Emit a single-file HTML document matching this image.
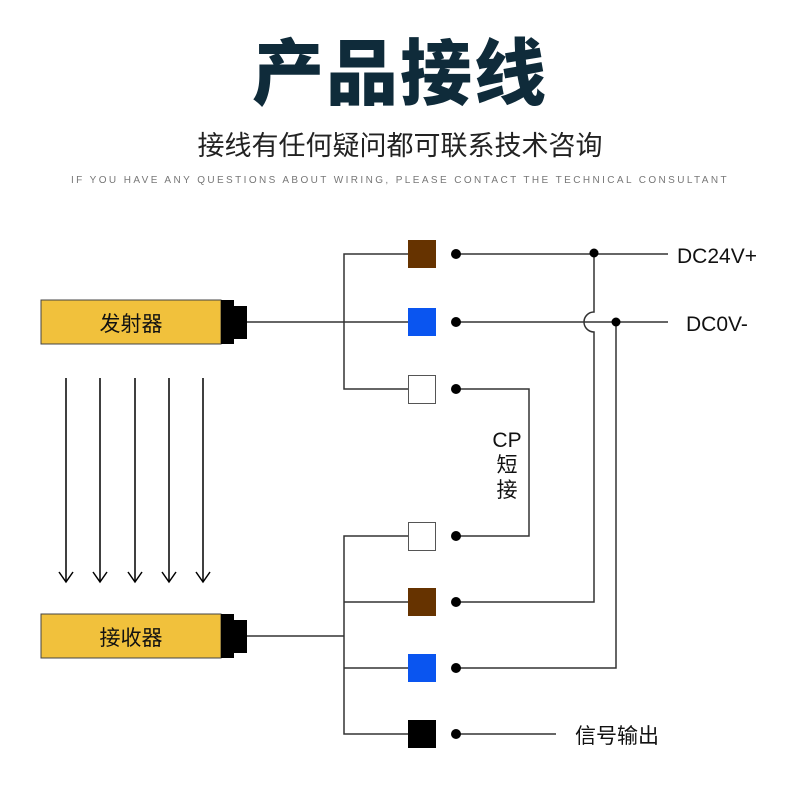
<!DOCTYPE html>
<html><head><meta charset="utf-8"><style>
body{margin:0;width:800px;height:800px;background:#fff;overflow:hidden;position:relative;font-family:"Liberation Sans","Noto Sans CJK SC",sans-serif}
.t{position:absolute;left:0;width:800px;text-align:center}
</style></head><body>
<div class="t" style="top:30px;font-size:72px;font-weight:900;color:#0f2b3a;line-height:90px;letter-spacing:2px">产品接线</div>
<div class="t" style="top:128px;font-size:27px;color:#222;line-height:36px">接线有任何疑问都可联系技术咨询</div>
<div class="t" style="top:175px;font-size:10px;color:#777;letter-spacing:2.4px;line-height:12px">IF YOU HAVE ANY QUESTIONS ABOUT WIRING, PLEASE CONTACT THE TECHNICAL CONSULTANT</div>
<svg width="800" height="800" style="position:absolute;left:0;top:0" font-family="Liberation Sans, Noto Sans CJK SC, sans-serif">
<g stroke="#333" stroke-width="1.5" fill="none">
<line x1="247" y1="322" x2="408" y2="322"/>
<polyline points="408,254 344,254 344,389 408,389"/>
<line x1="247" y1="636" x2="344" y2="636"/>
<polyline points="408,536 344,536 344,734 408,734"/>
<line x1="344" y1="602" x2="408" y2="602"/><line x1="344" y1="668" x2="408" y2="668"/>
<line x1="456" y1="254" x2="668" y2="254"/>
<line x1="456" y1="322" x2="668" y2="322"/>
<path d="M594,254 V312 A10,10 0 0 0 594,332 V602 H456"/>
<path d="M616,322 V668 H456"/>
<path d="M456,389 H529 V536 H456"/>
<line x1="456" y1="734" x2="556" y2="734"/>
</g>
<g stroke="#000" stroke-width="1.5" fill="none">
<line x1="66" y1="378" x2="66" y2="582"/><line x1="100" y1="378" x2="100" y2="582"/><line x1="135" y1="378" x2="135" y2="582"/><line x1="169" y1="378" x2="169" y2="582"/><line x1="203" y1="378" x2="203" y2="582"/>
<polyline points="59,572 66,582 73,572"/><polyline points="93,572 100,582 107,572"/><polyline points="128,572 135,582 142,572"/><polyline points="162,572 169,582 176,572"/><polyline points="196,572 203,582 210,572"/>
</g>
<rect x="41" y="300" width="180" height="44" fill="#f1c13c" stroke="#444" stroke-width="1"/>
<rect x="221" y="300" width="13" height="44" fill="#000"/><rect x="233" y="306" width="14" height="33" fill="#000"/>
<text x="131" y="331" font-size="21" text-anchor="middle" fill="#111">发射器</text>
<rect x="41" y="614" width="180" height="44" fill="#f1c13c" stroke="#444" stroke-width="1"/>
<rect x="221" y="614" width="13" height="44" fill="#000"/><rect x="233" y="620" width="14" height="33" fill="#000"/>
<text x="131" y="645" font-size="21" text-anchor="middle" fill="#111">接收器</text>
<rect x="408" y="240" width="28" height="28" fill="#663300"/>
<rect x="408" y="308" width="28" height="28" fill="#0a55f0"/>
<rect x="408.5" y="375.5" width="27" height="28" fill="#fff" stroke="#555"/>
<rect x="408.5" y="522.5" width="27" height="28" fill="#fff" stroke="#555"/>
<rect x="408" y="588" width="28" height="28" fill="#663300"/>
<rect x="408" y="654" width="28" height="28" fill="#0a55f0"/>
<rect x="408" y="720" width="28" height="28" fill="#000"/>
<g fill="#000"><circle cx="456" cy="254" r="5"/><circle cx="456" cy="322" r="5"/><circle cx="456" cy="389" r="5"/><circle cx="456" cy="536" r="5"/><circle cx="456" cy="602" r="5"/><circle cx="456" cy="668" r="5"/><circle cx="456" cy="734" r="5"/><circle cx="594" cy="253" r="4.5"/><circle cx="616" cy="322" r="4.5"/></g>
<g font-size="21" fill="#111">
<text x="677" y="263">DC24V+</text>
<text x="686" y="331">DC0V-</text>
<text x="507" y="447" text-anchor="middle">CP</text>
<text x="507" y="472" text-anchor="middle">短</text>
<text x="507" y="497" text-anchor="middle">接</text>
<text x="575" y="743">信号输出</text>
</g>
</svg>
</body></html>
